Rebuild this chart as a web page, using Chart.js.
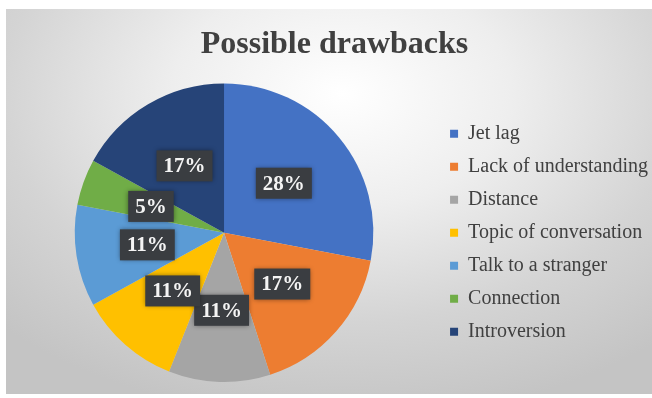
<!DOCTYPE html>
<html>
<head>
<meta charset="utf-8">
<script src="https://cdn.jsdelivr.net/npm/chart.js@4"></script>
<style>
  html, body { margin: 0; padding: 0; width: 652px; height: 398px; overflow: hidden; background: #fff; }
  #frame {
    position: absolute; left: 6px; top: 9px; width: 646px; height: 385px;
    background: radial-gradient(ellipse 75% 85% at 52% 22%, #ffffff 0%, #eeeeee 35%, #d4d4d4 70%, #c4c4c4 100%);
  }
  #wrap { position: absolute; left: 0; top: 0; width: 658px; height: 398px; }
</style>
</head>
<body>
<div id="frame"></div>
<div id="wrap"><canvas id="pieChart"></canvas></div>
<script>
    // Chart data
    const categories = ['Jet lag', 'Lack of understanding', 'Distance', 'Topic of conversation', 'Talk to a stranger', 'Connection', 'Introversion'];
    const shares = [28, 17, 11, 11, 11, 5, 17];
    const sliceColors = ['#4472C4', '#ED7D31', '#A5A5A5', '#FFC000', '#5B9BD5', '#70AD47', '#264478'];

    // Dark boxed percentage labels, like the Excel data callouts
    const boxLabels = {
        id: 'boxLabels',
        afterDatasetsDraw(chart) {
            const ctx = chart.ctx;
            const meta = chart.getDatasetMeta(0);
            const data = chart.data.datasets[0].data;
            const total = data.reduce((a, b) => a + b, 0);
            ctx.save();
            ctx.font = 'bold 21px "Liberation Serif", serif';
            ctx.textAlign = 'center';
            ctx.textBaseline = 'middle';
            meta.data.forEach((arc, i) => {
                const p = arc.getProps(['x', 'y', 'startAngle', 'endAngle', 'outerRadius'], true);
                const mid = (p.startAngle + p.endAngle) / 2;
                const r = p.outerRadius * 0.52;
                const cx = p.x + Math.cos(mid) * r;
                const cy = p.y + Math.sin(mid) * r;
                const txt = Math.round(data[i] / total * 100) + '%';
                const w = ctx.measureText(txt).width + 14;
                const h = 31;
                ctx.shadowColor = 'rgba(0,0,0,0.45)';
                ctx.shadowBlur = 5;
                ctx.fillStyle = '#3a3d41';
                ctx.fillRect(cx - w / 2, cy - h / 2, w, h);
                ctx.shadowColor = 'transparent';
                ctx.fillStyle = '#f4f4f4';
                ctx.fillText(txt, cx, cy + 1);
            });
            ctx.restore();
        }
    };

    const ctx = document.getElementById('pieChart').getContext('2d');
    new Chart(ctx, {
        type: 'pie',
        data: {
            labels: categories,
            datasets: [{
                data: shares,
                backgroundColor: sliceColors,
                borderWidth: 0
            }]
        },
        options: {
            responsive: true,
            maintainAspectRatio: false,
            animation: false,
            layout: {
                padding: { left: 11, right: 0, top: 0, bottom: 16 }
            },
            plugins: {
                title: {
                    display: true,
                    text: 'Possible drawbacks',
                    color: '#404040',
                    font: { family: 'Liberation Serif', size: 32, weight: 'bold' },
                    padding: { top: 26, bottom: 19 }
                },
                legend: {
                    position: 'right',
                    fullSize: false,
                    labels: {
                        boxWidth: 8,
                        boxHeight: 8,
                        padding: 13,
                        color: '#404040',
                        font: { family: 'Liberation Serif', size: 20 }
                    }
                },
                tooltip: { enabled: false }
            }
        },
        plugins: [boxLabels]
    });
</script>
</body>
</html>
